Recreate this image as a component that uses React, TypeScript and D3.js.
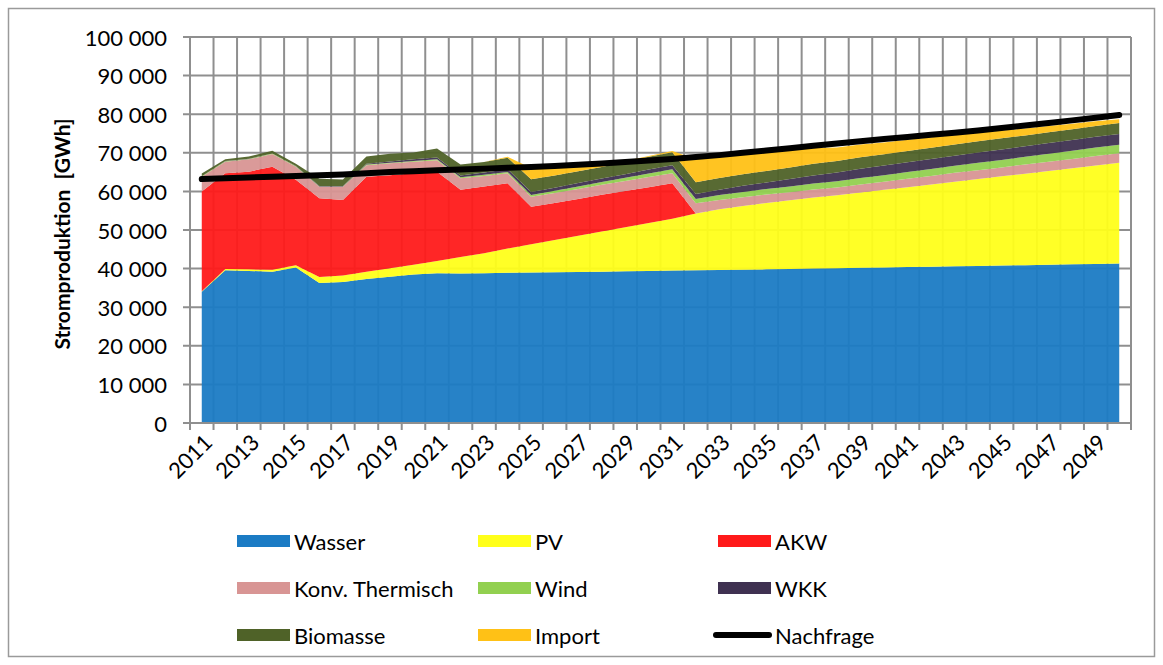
import React from "react";
import * as d3 from "d3";

const years = d3.range(2011, 2051).map(String);

const wasser = [34000, 39600, 39400, 39200, 40300, 36300, 36500, 37300, 37900, 38500, 38800, 38700, 38800, 38900, 39000, 39050, 39100, 39200, 39300, 39400, 39500, 39600, 39650, 39700, 39800, 39900, 40000, 40100, 40200, 40300, 40400, 40500, 40600, 40700, 40800, 40900, 41000, 41100, 41200, 41300];
const pv = [100, 300, 400, 500, 600, 1500, 1700, 1900, 2200, 2500, 3200, 4300, 5200, 6300, 7300, 8350, 9400, 10400, 11400, 12400, 13400, 14700, 15750, 16500, 17200, 17800, 18400, 18900, 19500, 20100, 20700, 21300, 21900, 22500, 23100, 23700, 24300, 24900, 25500, 26100];
const akw = [25900, 24800, 25300, 26700, 22100, 20400, 19600, 24600, 24100, 23700, 23100, 17400, 17300, 16900, 9700, 9600, 9500, 9500, 9400, 9300, 9200, 0, 0, 0, 0, 0, 0, 0, 0, 0, 0, 0, 0, 0, 0, 0, 0, 0, 0, 0];
const konvThermisch = [3800, 3000, 3200, 3300, 3400, 3000, 3400, 3000, 3100, 3000, 3000, 3000, 2700, 2600, 2600, 2600, 2600, 2600, 2600, 2600, 2600, 2600, 2400, 2300, 2200, 2100, 2100, 2000, 2100, 2100, 2200, 2200, 2300, 2300, 2300, 2400, 2400, 2400, 2500, 2500];
const wind = [100, 100, 100, 100, 100, 100, 100, 150, 150, 200, 200, 250, 300, 350, 450, 550, 650, 750, 850, 950, 1050, 1150, 1250, 1350, 1400, 1500, 1550, 1600, 1650, 1700, 1750, 1800, 1850, 1900, 1950, 2000, 2050, 2100, 2150, 2200];
const wkk = [50, 50, 50, 50, 50, 100, 100, 200, 300, 400, 500, 500, 600, 700, 800, 800, 900, 900, 900, 1000, 1000, 1300, 1400, 1600, 1700, 1900, 2100, 2300, 2400, 2500, 2500, 2600, 2600, 2700, 2700, 2700, 2800, 2800, 2800, 2800];
const biomasse = [700, 500, 600, 700, 600, 1900, 1700, 1900, 2000, 1800, 2300, 2800, 2700, 3000, 3300, 3200, 3100, 3000, 3100, 3300, 3400, 3000, 3000, 3000, 3000, 3000, 3000, 3000, 3000, 2900, 2900, 2900, 2900, 2900, 2900, 2800, 2800, 2800, 2800, 2800];
const importe = [0, 0, 0, 0, 0, 0, 0, 0, 0, 0, 0, 0, 0, 200, 2900, 2200, 1500, 800, 300, 200, 300, 6000, 5600, 5100, 4800, 4500, 4100, 3500, 3300, 3100, 2900, 2700, 2400, 2200, 2000, 1800, 1600, 1400, 1200, 1000];
const nachfrage = [63200, 63400, 63600, 63800, 64000, 64200, 64400, 64700, 65000, 65200, 65500, 65700, 65900, 66100, 66300, 66600, 66900, 67200, 67600, 68000, 68400, 68900, 69400, 70000, 70600, 71200, 71800, 72400, 73000, 73550, 74100, 74650, 75200, 75800, 76400, 77050, 77700, 78400, 79100, 79800];

const seriesNames = ["Wasser", "PV", "AKW", "Konv. Thermisch", "Wind", "WKK", "Biomasse", "Import"];
const seriesValues = [wasser, pv, akw, konvThermisch, wind, wkk, biomasse, importe];
const seriesColors = ["#1b7bc4", "#ffff1a", "#ff1a1a", "#d89594", "#92d050", "#3f3151", "#4f6228", "#ffc116"];
const yTicks = [0, 10000, 20000, 30000, 40000, 50000, 60000, 70000, 80000, 90000, 100000];

const W = 1163;
const H = 665;
const left = 190;
const right = 1131;
const top = 37;
const bottom = 423;
const font = "Lato, 'Open Sans', sans-serif";
const grid = "#8f8f8f";

export default function App() {
  const table = years.map((y, i) => {
    const row: Record<string, any> = { year: y };
    seriesNames.forEach((n, k) => (row[n] = seriesValues[k][i]));
    return row;
  });
  const stacked = d3.stack<any>().keys(seriesNames)(table);
  const x = d3.scaleBand<string>().domain(years).range([left, right]).padding(0);
  const bw = x.bandwidth();
  const cx = (y: string) => (x(y) as number) + bw / 2;
  const y = d3.scaleLinear().domain([0, 100000]).range([bottom, top]);
  const fmt = d3.formatLocale({ thousands: " ", grouping: [3], decimal: ",", currency: ["", ""] }).format(",d");

  const area = d3
    .area<any>()
    .x((d) => cx(d.data.year))
    .y0((d) => y(d[0]))
    .y1((d) => y(d[1]));
  const line = d3
    .line<number>()
    .x((_, i) => cx(years[i]))
    .y((d) => y(d));

  const boundaries = d3.range(0, years.length + 1).map((i) => left + i * bw);

  const legendCols = [237, 478, 718];
  const legendRows = [541, 588, 635];
  const legendItems = [...seriesNames.map((n, k) => ({ name: n, color: seriesColors[k], line: false })), { name: "Nachfrage", color: "#000", line: true }];

  return (
    <svg width={W} height={H} style={{ position: "absolute", left: 0, top: 0, background: "#fff" }}>
      <rect x={8.5} y={8.5} width={1146} height={648} fill="#fff" stroke="#9a9a9a" strokeWidth={1.5} />
      {yTicks.map((t) => (
        <line key={"h" + t} x1={left - 7} x2={right} y1={y(t)} y2={y(t)} stroke={grid} strokeWidth={2} />
      ))}
      {boundaries.map((b, i) => (
        <line key={"v" + i} x1={b} x2={b} y1={top} y2={bottom + 7} stroke={grid} strokeWidth={2} />
      ))}
      {stacked.map((s, k) => (
        <path key={s.key} d={area(s) as string} fill={seriesColors[k]} fillOpacity={0.95} />
      ))}
      <path d={line(nachfrage) as string} fill="none" stroke="#000" strokeWidth={6} strokeLinecap="round" strokeLinejoin="round" />
      <line x1={left} x2={left} y1={top} y2={bottom} stroke={grid} strokeWidth={2} />
      <line x1={left - 7} x2={right} y1={bottom} y2={bottom} stroke={grid} strokeWidth={2} />
      {yTicks.map((t) => (
        <text key={"yl" + t} x={167} y={y(t)} textAnchor="end" dominantBaseline="central" fontFamily={font} fontSize={22} fill="#000">
          {fmt(t)}
        </text>
      ))}
      {years.map((yr, i) =>
        i % 2 === 0 ? (
          <text
            key={"xl" + yr}
            transform={`translate(${cx(yr) + 6},${bottom + 15}) rotate(-45)`}
            textAnchor="end"
            dominantBaseline="central"
            fontFamily={font}
            fontSize={22}
            fill="#000"
          >
            {yr}
          </text>
        ) : null
      )}
      <text
        transform={`translate(61,${(top + bottom) / 2 + 4}) rotate(-90)`}
        textAnchor="middle"
        dominantBaseline="central"
        fontFamily={font}
        fontWeight="bold"
        fontSize={21}
        fill="#000"
      >
        {"Stromproduktion\u00a0\u00a0[GWh]"}
      </text>
      {legendItems.map((it, i) => {
        const lx = legendCols[i % 3];
        const ly = legendRows[Math.floor(i / 3)];
        return (
          <g key={"lg" + it.name}>
            {it.line ? (
              <line x1={lx - 2} x2={lx + 51} y1={ly} y2={ly} stroke="#000" strokeWidth={6} strokeLinecap="round" />
            ) : (
              <rect x={lx} y={ly - 6} width={53} height={12} fill={it.color} />
            )}
            <text x={lx + 57} y={ly} dominantBaseline="central" fontFamily={font} fontSize={22} fill="#000">
              {it.name}
            </text>
          </g>
        );
      })}
    </svg>
  );
}
